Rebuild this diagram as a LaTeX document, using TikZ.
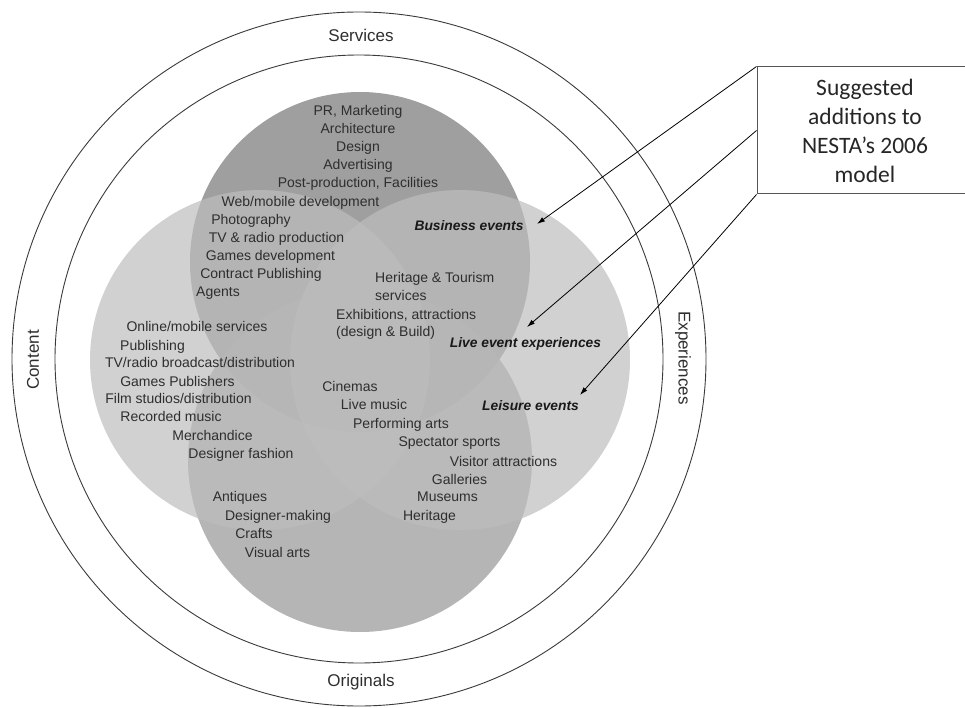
\documentclass[tikz,border=0pt]{standalone}
\usepackage{fontspec}
\setmainfont{Liberation Sans}
\newfontfamily\boxfont{Carlito}
\usetikzlibrary{arrows.meta}
\definecolor{txt}{HTML}{2E2E2E}
\definecolor{ringline}{HTML}{3A3A3A}
\definecolor{topgray}{HTML}{9C9C9C}
\definecolor{botgray}{HTML}{A8A8A8}
\definecolor{sidegray}{HTML}{BDBDBD}
\definecolor{boxline}{HTML}{555555}
\begin{document}
\begin{tikzpicture}[x=1pt,y=-1pt,
  item/.style={font=\fontsize{14}{18}\selectfont, text=txt, inner sep=0pt, text height=10pt, text depth=3pt},
  added/.style={font=\fontsize{13.8}{18}\selectfont\bfseries\itshape, text=black!90, inner sep=0pt, text height=10pt, text depth=3pt},
  ring/.style={font=\fontsize{17}{20}\selectfont, text=txt, inner sep=0pt},
  ringcircle/.style={draw=ringline, line width=0.9pt},
  pointer/.style={draw=black, line width=0.8pt, -{Latex[length=8pt,width=5pt]}}
]
\useasboundingbox (0,0) rectangle (965,708);

% outer rings
\draw[ringcircle] (359,359) circle[radius=347pt];
\draw[ringcircle] (359,359) circle[radius=304pt];

% Venn circles
\fill[topgray, fill opacity=0.97] (360,262) circle[radius=170pt];
\fill[botgray, fill opacity=0.85] (360,460) circle[radius=172pt];
\fill[sidegray, fill opacity=0.7] (260,360) circle[radius=170pt];
\fill[sidegray, fill opacity=0.7] (460,360) circle[radius=170pt];

% ring labels
\node[ring] (services) at (361,35) {Services};
\node[ring] (originals) at (361,682) {Originals};
\node[ring, rotate=90] (content) at (33,360) {Content};
\node[ring, rotate=-90] (experiences) at (683,358) {Experiences};

% top circle items
\node[item] (pr) at (358,112) {PR, Marketing};
\node[item] (arch) at (358,130) {Architecture};
\node[item] (design) at (358,148) {Design};
\node[item] (adv) at (358,166) {Advertising};
\node[item] (post) at (358,184) {Post-production, Facilities};
\node[item] (web) at (300.5,203) {Web/mobile development};
\node[item] (photo) at (251,221) {Photography};
\node[item] (tvprod) at (276.5,239) {TV \& radio production};
\node[item] (gamesdev) at (270.5,257) {Games development};
\node[item] (contract) at (261,275) {Contract Publishing};
\node[item] (agents) at (218,293) {Agents};
\node[item, anchor=west] (herit) at (375,279) {Heritage \& Tourism};
\node[item, anchor=west] (servs) at (375,297) {services};
\node[item, anchor=west] (exhib) at (336,316) {Exhibitions, attractions};
\node[item, anchor=west] (build) at (336,333) {(design \& Build)};

% left circle items
\node[item] (online) at (197,328) {Online/mobile services};
\node[item] (publ) at (152.5,347) {Publishing};
\node[item] (tvbroad) at (200,364) {TV/radio broadcast/distribution};
\node[item] (gamespub) at (177.5,383) {Games Publishers};
\node[item] (film) at (178.5,400) {Film studios/distribution};
\node[item] (recorded) at (171,418) {Recorded music};
\node[item] (merch) at (212.5,437) {Merchandice};
\node[item] (fashion) at (241,455) {Designer fashion};

% centre / right items
\node[item] (cinemas) at (350,388) {Cinemas};
\node[item] (livemusic) at (374,406) {Live music};
\node[item] (performing) at (401,425) {Performing arts};
\node[item] (spectator) at (449.5,443) {Spectator sports};
\node[item] (visitor) at (503.5,463) {Visitor attractions};
\node[item] (galleries) at (459.5,481) {Galleries};
\node[item] (museums) at (447.5,498) {Museums};
\node[item] (heritage) at (429.5,517) {Heritage};

% bottom circle items
\node[item] (antiques) at (240,498) {Antiques};
\node[item] (desmaking) at (278,517) {Designer-making};
\node[item] (crafts) at (254,535) {Crafts};
\node[item] (visual) at (277.5,554) {Visual arts};

% suggested additions
\node[added] (business) at (469,227) {Business events};
\node[added] (liveevent) at (525.5,344) {Live event experiences};
\node[added] (leisure) at (530.5,407) {Leisure events};

% box
\node[draw=boxline, line width=1pt, fill=white, minimum width=216pt, minimum height=127pt,
      inner sep=0pt, align=center, text=black!85,
      font=\boxfont\fontsize{23.5}{29}\selectfont] (box) at (865,130.5)
      {Suggested\\additions to\\NESTA’s 2006\\model};

\coordinate (tipA) at (537,224);
\coordinate (tipB) at (527,327);
\coordinate (tipC) at (580,395);
\draw[pointer] (box.north west) -- (tipA);
\draw[pointer] (box.west) -- (tipB);
\draw[pointer] (box.south west) -- (tipC);
\end{tikzpicture}
\end{document}
